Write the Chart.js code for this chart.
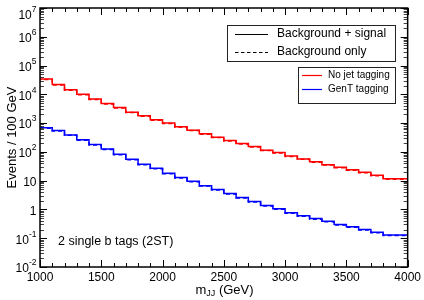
<!DOCTYPE html>
<html>
<head>
<meta charset="utf-8">
<script src="https://cdn.jsdelivr.net/npm/chart.js@4"></script>
<style>
  html, body { margin: 0; padding: 0; background: #fff; }
  #wrap { width: 424px; height: 300px; position: relative; }
</style>
</head>
<body>
<div id="wrap"><canvas id="mjjChart"></canvas></div>
<script>
// ── DATA (events per 100 GeV bin) ──
const BIN_LO = [1000, 1100, 1200, 1300, 1400, 1500, 1600, 1700, 1800, 1900,
                2000, 2100, 2200, 2300, 2400, 2500, 2600, 2700, 2800, 2900,
                3000, 3100, 3200, 3300, 3400, 3500, 3600, 3700, 3800, 3900];
const BIN_WIDTH = 100;

// no jet tagging (red)
const RED_SIG = [42000, 34000, 22000, 14500, 10000, 6900, 4800, 3500, 2400, 1800,
                 1300, 1000, 740, 570, 425, 325, 248, 195, 153, 115,
                 95, 72, 57, 45, 36, 29, 24, 19.5, 15.4, 11.7];
const RED_BKG = [40500, 32800, 21200, 14000, 9650, 6650, 4630, 3380, 2320, 1740,
                 1255, 965, 714, 550, 410, 314, 239, 188, 148, 111,
                 92, 69.5, 55, 43.4, 34.7, 28, 23.2, 18.8, 14.9, 11.3];

// GenT tagging (blue)
const BLUE_SIG = [700, 690, 550, 390, 263, 180, 125, 83, 56, 37,
                  27, 18, 13, 9.5, 6.7, 4.9, 3.55, 2.6, 1.9, 1.38,
                  1.06, 0.77, 0.6, 0.48, 0.39, 0.30, 0.25, 0.20, 0.16, 0.13];
const BLUE_BKG = [675, 665, 530, 376, 254, 174, 121, 80, 53, 35.7,
                  26, 17.4, 12.5, 9.2, 6.5, 4.7, 3.43, 2.5, 1.83, 1.33,
                  1.02, 0.74, 0.58, 0.46, 0.376, 0.29, 0.24, 0.193, 0.154, 0.125];

const X_TICKS = [1000, 1500, 2000, 2500, 3000, 3500, 4000];
const X_MINOR_STEP = 100;
const Y_DECADES = [-2, -1, 0, 1, 2, 3, 4, 5, 6, 7];

const FONT = '"Liberation Sans", Arial, Helvetica, sans-serif';
const RED = '#ff0000';
const BLUE = '#0000ff';

// histogram -> step points (last bin closed at its upper edge)
function toSteps(vals) {
  const pts = BIN_LO.map((x, i) => ({ x: x, y: vals[i] }));
  pts.push({ x: BIN_LO[BIN_LO.length - 1] + BIN_WIDTH, y: vals[vals.length - 1] });
  return pts;
}

function histo(vals, color, dashed) {
  return {
    data: toSteps(vals),
    borderColor: color,
    borderWidth: 1.5,
    borderDash: dashed ? [4, 3] : [],
    stepped: 'after',
    pointRadius: 0,
    fill: false,
  };
}

// ── frame, inward ticks, labels, legends ──
const decorations = {
  id: 'decorations',
  afterDraw(chart) {
    const ctx = chart.ctx;
    const { left, right, top, bottom } = chart.chartArea;
    const xs = chart.scales.x, ys = chart.scales.y;
    ctx.save();

    // x ticks (bottom + top)
    ctx.strokeStyle = '#000';
    ctx.lineWidth = 1;
    for (let v = X_TICKS[0]; v <= X_TICKS[X_TICKS.length - 1]; v += X_MINOR_STEP) {
      const px = Math.round(xs.getPixelForValue(v)) + 0.5;
      const len = X_TICKS.includes(v) ? 7 : 4;
      ctx.beginPath();
      ctx.moveTo(px, bottom); ctx.lineTo(px, bottom - len);
      ctx.moveTo(px, top); ctx.lineTo(px, top + len);
      ctx.stroke();
    }

    // y ticks (left + right), log minor ticks
    Y_DECADES.forEach(n => {
      const kmax = n === Y_DECADES[Y_DECADES.length - 1] ? 1 : 9;
      for (let k = 1; k <= kmax; k++) {
        const py = Math.round(ys.getPixelForValue(k * Math.pow(10, n))) + 0.5;
        const len = k === 1 ? 7 : 4;
        ctx.strokeStyle = k === 1 ? '#000' : '#444';
        ctx.beginPath();
        ctx.moveTo(left, py); ctx.lineTo(left + len, py);
        ctx.moveTo(right, py); ctx.lineTo(right - len, py);
        ctx.stroke();
      }
    });

    // frame
    ctx.strokeStyle = '#000';
    ctx.lineWidth = 1.5;
    ctx.strokeRect(left, top, right - left, bottom - top);

    // y tick labels with superscripts
    ctx.fillStyle = '#000';
    ctx.textBaseline = 'middle';
    const xr = 36.5;
    Y_DECADES.forEach(n => {
      let py = ys.getPixelForValue(Math.pow(10, n)) + 2;
      if (py < top + 7.5) py = top + 7.5;
      if (n === 0 || n === 1) {
        ctx.font = '12px ' + FONT;
        ctx.textAlign = 'right';
        ctx.fillText(n === 0 ? '1' : '10', xr, py);
        return;
      }
      const sup = String(n);
      ctx.font = '8.5px ' + FONT;
      const sw = ctx.measureText(sup).width;
      ctx.textAlign = 'right';
      ctx.fillText(sup, xr, py - 6);
      ctx.font = '12px ' + FONT;
      ctx.fillText('10', xr - sw, py);
    });

    // y title
    ctx.save();
    ctx.translate(12, (top + bottom) / 2);
    ctx.rotate(-Math.PI / 2);
    ctx.font = '13px ' + FONT;
    ctx.textAlign = 'center';
    ctx.fillText('Events / 100 GeV', 0, 0);
    ctx.restore();

    // x title m_JJ (GeV)
    ctx.textAlign = 'left';
    ctx.font = '13px ' + FONT;
    const wm = ctx.measureText('m').width;
    const wr = ctx.measureText(' (GeV)').width;
    ctx.font = '9px ' + FONT;
    const wj = ctx.measureText('JJ').width;
    let x0 = 224.5 - (wm + wj + wr) / 2;
    const ty = 290;
    ctx.font = '13px ' + FONT;
    ctx.fillText('m', x0, ty);
    ctx.font = '9px ' + FONT;
    ctx.fillText('JJ', x0 + wm, ty + 4);
    ctx.font = '13px ' + FONT;
    ctx.fillText(' (GeV)', x0 + wm + wj, ty);

    // annotation
    ctx.font = '12.5px ' + FONT;
    ctx.fillText('2 single b tags (2ST)', 58, 242);

    // legend 1: line styles
    ctx.lineWidth = 1;
    ctx.strokeStyle = '#222';
    ctx.strokeRect(227.5, 25.5, 168, 36);
    ctx.strokeStyle = '#000';
    ctx.lineWidth = 1.2;
    ctx.beginPath(); ctx.moveTo(235, 34.5); ctx.lineTo(268, 34.5); ctx.stroke();
    ctx.setLineDash([3.5, 2.5]);
    ctx.beginPath(); ctx.moveTo(235, 52.5); ctx.lineTo(268, 52.5); ctx.stroke();
    ctx.setLineDash([]);
    ctx.font = '12px ' + FONT;
    ctx.fillText('Background + signal', 277, 34);
    ctx.fillText('Background only', 277, 52);

    // legend 2: colours
    ctx.lineWidth = 1;
    ctx.strokeStyle = '#222';
    ctx.strokeRect(298.5, 67.5, 97, 36);
    ctx.lineWidth = 1.2;
    ctx.strokeStyle = RED;
    ctx.beginPath(); ctx.moveTo(302, 75.5); ctx.lineTo(322, 75.5); ctx.stroke();
    ctx.strokeStyle = BLUE;
    ctx.beginPath(); ctx.moveTo(302, 89.5); ctx.lineTo(322, 89.5); ctx.stroke();
    ctx.font = '10px ' + FONT;
    ctx.fillText('No jet tagging', 328, 75.5);
    ctx.fillText('GenT tagging', 328, 89.5);

    ctx.restore();
  }
};

new Chart(document.getElementById('mjjChart'), {
  type: 'line',
  data: {
    datasets: [
      histo(RED_BKG, RED, true),
      histo(BLUE_BKG, BLUE, true),
      histo(RED_SIG, RED, false),
      histo(BLUE_SIG, BLUE, false),
    ]
  },
  options: {
    responsive: true,
    maintainAspectRatio: false,
    animation: false,
    layout: { padding: { top: 8, right: 15, left: 0, bottom: 0 } },
    plugins: {
      legend: { display: false },
      tooltip: { enabled: false }
    },
    scales: {
      x: {
        type: 'linear',
        min: 1000, max: 4000,
        grid: { display: false, drawTicks: false },
        border: { display: false },
        ticks: {
          stepSize: 500,
          autoSkip: false,
          maxRotation: 0,
          padding: 3,
          color: '#000',
          font: { family: FONT, size: 12 },
          callback: (v) => String(v)
        },
        afterFit: (s) => { s.height = 33; }
      },
      y: {
        type: 'logarithmic',
        min: 0.01, max: 1e7,
        grid: { display: false, drawTicks: false },
        border: { display: false },
        ticks: { display: false },
        afterFit: (s) => { s.width = 40; }
      }
    }
  },
  plugins: [decorations]
});
</script>
</body>
</html>
